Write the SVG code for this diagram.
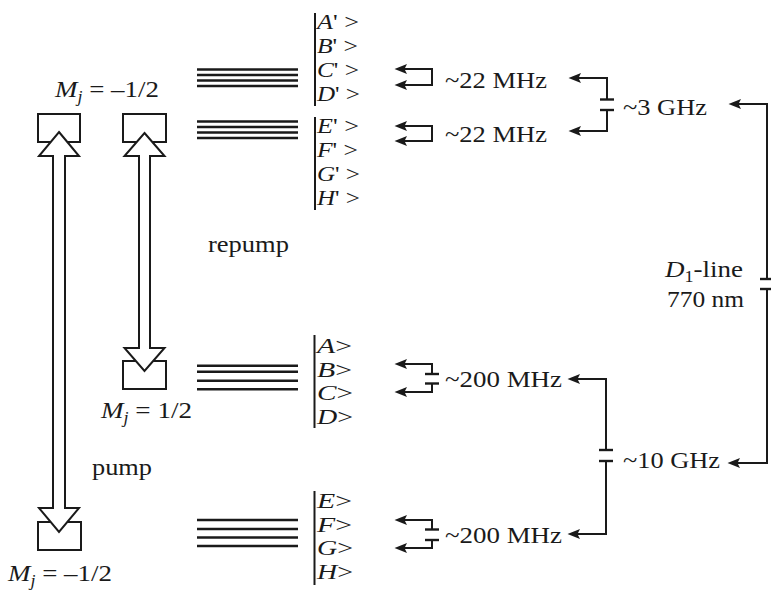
<svg xmlns="http://www.w3.org/2000/svg" width="771" height="590" viewBox="0 0 771 590">
<style>
text{font-family:"Liberation Serif","Times New Roman",serif;font-size:24px;fill:#1a1a1a}
.i{font-style:italic}
.sub{font-size:16px}
.k1{font-size:22px}
.k2{font-size:21px}
.box{fill:none;stroke:#1a1a1a;stroke-width:2}
.lvl{stroke:#1a1a1a;stroke-width:2.4}
.bar{stroke:#1a1a1a;stroke-width:2}
.dbl{fill:#fff;stroke:#1a1a1a;stroke-width:2;stroke-linejoin:miter}
.ln{fill:none;stroke:#1a1a1a;stroke-width:2}
.cap{stroke:#1a1a1a;stroke-width:2.4}
</style>
<defs>
<marker id="ah" markerUnits="userSpaceOnUse" markerWidth="13" markerHeight="10" refX="3" refY="5" orient="auto-start-reverse">
<path d="M0,0 L12.5,5 L0,10 L2.5,5 Z" fill="#1a1a1a"/>
</marker>
</defs>

<g id="state-top-left">
<rect class="box" x="38" y="114" width="42" height="28"/>
</g>
<g id="state-top-right">
<rect class="box" x="123" y="114" width="43" height="28"/>
</g>
<g id="label-top">
<text x="55" y="97" textLength="104" lengthAdjust="spacingAndGlyphs"><tspan class="i">M</tspan><tspan class="i sub" dy="5">j</tspan><tspan dy="-5"> = –1/2</tspan></text>
</g>
<g id="state-mid">
<rect class="box" x="123" y="361" width="43" height="28"/>
<text x="101" y="418" textLength="91" lengthAdjust="spacingAndGlyphs"><tspan class="i">M</tspan><tspan class="i sub" dy="5">j</tspan><tspan dy="-5"> = 1/2</tspan></text>
</g>
<g id="state-bottom">
<rect class="box" x="38" y="522" width="43" height="28"/>
<text x="8" y="581" textLength="104" lengthAdjust="spacingAndGlyphs"><tspan class="i">M</tspan><tspan class="i sub" dy="5">j</tspan><tspan dy="-5"> = –1/2</tspan></text>
</g>

<g id="levels-ABCD-prime">
<line class="lvl" x1="197" y1="69.5" x2="298" y2="69.5"/>
<line class="lvl" x1="197" y1="75" x2="298" y2="75"/>
<line class="lvl" x1="197" y1="80.5" x2="298" y2="80.5"/>
<line class="lvl" x1="197" y1="86" x2="298" y2="86"/>
<line class="bar" x1="315" y1="13" x2="315" y2="106"/>
<text class="k1" x="317" y="29" textLength="42" lengthAdjust="spacingAndGlyphs"><tspan class="i">A</tspan>' &gt;</text>
<text class="k1" x="317" y="52.5" textLength="41" lengthAdjust="spacingAndGlyphs"><tspan class="i">B</tspan>' &gt;</text>
<text class="k1" x="317" y="76.5" textLength="42" lengthAdjust="spacingAndGlyphs"><tspan class="i">C</tspan>' &gt;</text>
<text class="k1" x="317" y="100.5" textLength="43" lengthAdjust="spacingAndGlyphs"><tspan class="i">D</tspan>' &gt;</text>
</g>
<g id="levels-EFGH-prime">
<line class="lvl" x1="197" y1="121.5" x2="298" y2="121.5"/>
<line class="lvl" x1="197" y1="127" x2="298" y2="127"/>
<line class="lvl" x1="197" y1="132.5" x2="298" y2="132.5"/>
<line class="lvl" x1="197" y1="138" x2="298" y2="138"/>
<line class="bar" x1="315" y1="117" x2="315" y2="210"/>
<text class="k1" x="317" y="133" textLength="42" lengthAdjust="spacingAndGlyphs"><tspan class="i">E</tspan>' &gt;</text>
<text class="k1" x="317" y="157" textLength="41" lengthAdjust="spacingAndGlyphs"><tspan class="i">F</tspan>' &gt;</text>
<text class="k1" x="317" y="181" textLength="43" lengthAdjust="spacingAndGlyphs"><tspan class="i">G</tspan>' &gt;</text>
<text class="k1" x="317" y="205" textLength="43" lengthAdjust="spacingAndGlyphs"><tspan class="i">H</tspan>' &gt;</text>
</g>
<g id="levels-ABCD">
<line class="lvl" x1="197" y1="365.7" x2="298" y2="365.7"/>
<line class="lvl" x1="197" y1="371.7" x2="298" y2="371.7"/>
<line class="lvl" x1="197" y1="380.7" x2="298" y2="380.7"/>
<line class="lvl" x1="197" y1="389.3" x2="298" y2="389.3"/>
<line class="bar" x1="314.5" y1="335" x2="314.5" y2="428"/>
<text class="k2" x="317" y="353" textLength="35" lengthAdjust="spacingAndGlyphs"><tspan class="i">A</tspan>&gt;</text>
<text class="k2" x="317" y="376.5" textLength="35" lengthAdjust="spacingAndGlyphs"><tspan class="i">B</tspan>&gt;</text>
<text class="k2" x="317" y="400" textLength="36" lengthAdjust="spacingAndGlyphs"><tspan class="i">C</tspan>&gt;</text>
<text class="k2" x="317" y="423.5" textLength="36" lengthAdjust="spacingAndGlyphs"><tspan class="i">D</tspan>&gt;</text>
</g>
<g id="levels-EFGH">
<line class="lvl" x1="197" y1="520" x2="298" y2="520"/>
<line class="lvl" x1="197" y1="529" x2="298" y2="529"/>
<line class="lvl" x1="197" y1="537.5" x2="298" y2="537.5"/>
<line class="lvl" x1="197" y1="546" x2="298" y2="546"/>
<line class="bar" x1="314.5" y1="491" x2="314.5" y2="585"/>
<text class="k2" x="317" y="508" textLength="35" lengthAdjust="spacingAndGlyphs"><tspan class="i">E</tspan>&gt;</text>
<text class="k2" x="317" y="531.5" textLength="35" lengthAdjust="spacingAndGlyphs"><tspan class="i">F</tspan>&gt;</text>
<text class="k2" x="317" y="555" textLength="36" lengthAdjust="spacingAndGlyphs"><tspan class="i">G</tspan>&gt;</text>
<text class="k2" x="317" y="578.5" textLength="36" lengthAdjust="spacingAndGlyphs"><tspan class="i">H</tspan>&gt;</text>
</g>

<g id="label-repump"><text x="208" y="251.5" textLength="81" lengthAdjust="spacingAndGlyphs">repump</text></g>
<g id="label-pump"><text x="92" y="475" textLength="60" lengthAdjust="spacingAndGlyphs">pump</text></g>
<g id="label-22a"><text x="445" y="88" textLength="102" lengthAdjust="spacingAndGlyphs">~22 MHz</text></g>
<g id="label-22b"><text x="445" y="142" textLength="102" lengthAdjust="spacingAndGlyphs">~22 MHz</text></g>
<g id="label-3ghz"><text x="623" y="115" textLength="84" lengthAdjust="spacingAndGlyphs">~3 GHz</text></g>
<g id="label-d1"><text x="665" y="277" textLength="78" lengthAdjust="spacingAndGlyphs"><tspan class="i">D</tspan><tspan class="sub" dy="5">1</tspan><tspan dy="-5">-line</tspan></text>
<text x="667" y="306.5" textLength="77" lengthAdjust="spacingAndGlyphs">770 nm</text></g>
<g id="label-10ghz"><text x="623" y="468" textLength="97" lengthAdjust="spacingAndGlyphs">~10 GHz</text></g>
<g id="label-200a"><text x="445" y="387" textLength="117" lengthAdjust="spacingAndGlyphs">~200 MHz</text></g>
<g id="label-200b"><text x="445" y="543" textLength="117" lengthAdjust="spacingAndGlyphs">~200 MHz</text></g>

<g id="connectors">
<polygon class="dbl" points="59,132 79,156 65,156 65,508 79,508 59,532 39,508 53,508 53,156 39,156"/>
<polygon class="dbl" points="144.5,133 164.5,156 150,156 150,348 164.5,348 144.5,371 124.5,348 139,348 139,156 124.5,156"/>
<path class="ln" d="M404,69 H432 V85 H404" marker-start="url(#ah)" marker-end="url(#ah)"/>
<path class="ln" d="M404,126 H432 V141 H404" marker-start="url(#ah)" marker-end="url(#ah)"/>
<path class="ln" d="M578,78 H607 V99.5 M607,110 V131 H578" marker-start="url(#ah)" marker-end="url(#ah)"/>
<line class="cap" x1="600" y1="99.5" x2="614" y2="99.5"/>
<line class="cap" x1="600" y1="110" x2="614" y2="110"/>
<path class="ln" d="M738,104 H767 V279 M767,289 V463 H737" marker-start="url(#ah)" marker-end="url(#ah)"/>
<line class="cap" x1="760" y1="279" x2="771" y2="279"/>
<line class="cap" x1="760" y1="289" x2="771" y2="289"/>
<path class="ln" d="M404,364 H432 V374 M432,383.5 V392 H404" marker-start="url(#ah)" marker-end="url(#ah)"/>
<line class="cap" x1="425" y1="374" x2="439" y2="374"/>
<line class="cap" x1="425" y1="383.5" x2="439" y2="383.5"/>
<path class="ln" d="M404,520 H432 V529.5 M432,540 V548 H404" marker-start="url(#ah)" marker-end="url(#ah)"/>
<line class="cap" x1="425" y1="529.5" x2="439" y2="529.5"/>
<line class="cap" x1="425" y1="540" x2="439" y2="540"/>
<path class="ln" d="M577,379 H606 V450 M606,461 V534 H577" marker-start="url(#ah)" marker-end="url(#ah)"/>
<line class="cap" x1="599" y1="450" x2="613" y2="450"/>
<line class="cap" x1="599" y1="461" x2="613" y2="461"/>
</g>
</svg>
